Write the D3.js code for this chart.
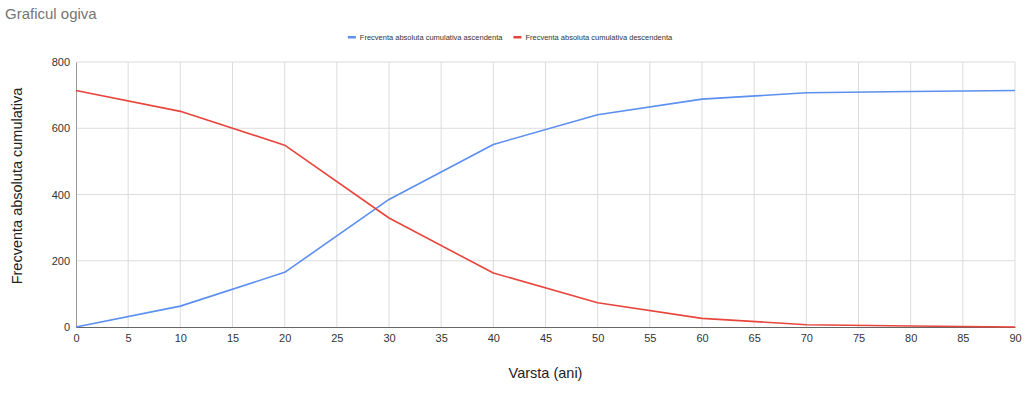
<!DOCTYPE html>
<html>
<head>
<meta charset="utf-8">
<script src="https://cdn.jsdelivr.net/npm/d3@7"></script>
<style>
  body { margin: 0; background: #fff; }
  svg { display: block; font-family: Arial, "Liberation Sans", sans-serif; }
</style>
</head>
<body>
<svg id="chart" width="1024" height="396"></svg>
<script>
// data
const ages = [0, 10, 20, 30, 40, 50, 60, 70, 80, 90];
const ascending = [0, 63, 165, 385, 551, 641, 688, 707, 711, 714];
const descending = [714, 651, 549, 329, 163, 73, 26, 7, 3, 0];
const xTicks = d3.range(0, 91, 5);
const yTicks = [0, 200, 400, 600, 800];
const seriesNames = ['Frecventa absoluta cumulativa ascendenta', 'Frecventa absoluta cumulativa descendenta'];
const seriesColors = ['#5b8ff0', '#e8453c'];

const MARGINS = { top: 62, bottom: 69, left: 76, right: 9 };
const FONT = 'Arial, "Liberation Sans", sans-serif';
const svg = d3.select('#chart');
const width = +svg.attr('width');
const height = +svg.attr('height');

const scaleX = d3.scaleLinear().domain([0, 90]).range([MARGINS.left, width - MARGINS.right]);
const scaleY = d3.scaleLinear().domain([0, 800]).range([height - MARGINS.bottom, MARGINS.top]);

// title
svg.append('text')
  .attr('x', 5).attr('y', 19)
  .attr('font-size', 15).attr('fill', '#757575')
  .text('Graficul ogiva');

// grid
const grid = svg.append('g').attr('class', 'grid');
grid.selectAll('.vx').data(xTicks.filter(d => d > 0)).join('line')
  .attr('x1', d => scaleX(d)).attr('x2', d => scaleX(d))
  .attr('y1', scaleY(800)).attr('y2', scaleY(0))
  .attr('stroke', '#dcdcdc').attr('stroke-width', 1);
grid.selectAll('.hy').data(yTicks.filter(d => d > 0)).join('line')
  .attr('x1', scaleX(0)).attr('x2', scaleX(90))
  .attr('y1', d => scaleY(d)).attr('y2', d => scaleY(d))
  .attr('stroke', '#dcdcdc').attr('stroke-width', 1);

// axes
const axisX = svg.append('g')
  .attr('transform', `translate(0, ${scaleY(0)})`)
  .call(d3.axisBottom(scaleX).tickValues(xTicks).tickSize(0).tickPadding(7));
axisX.select('.domain').attr('stroke', '#666');
axisX.selectAll('text').attr('font-size', 11).attr('fill', '#333').attr('font-family', FONT);

const axisY = svg.append('g')
  .attr('transform', `translate(${scaleX(0)}, 0)`)
  .call(d3.axisLeft(scaleY).tickValues(yTicks).tickSize(0).tickPadding(6));
axisY.select('.domain').attr('stroke', '#999');
axisY.selectAll('text').attr('font-size', 11).attr('fill', '#333').attr('font-family', FONT);

// lines
const line = d3.line().x((d, i) => scaleX(ages[i])).y(d => scaleY(d));
[ascending, descending].forEach((values, i) => {
  svg.append('path')
    .datum(values)
    .attr('d', line)
    .attr('fill', 'none')
    .attr('stroke', seriesColors[i])
    .attr('stroke-width', 1.6)
    .attr('stroke-linejoin', 'round');
});

// legend, centered, laid out from measured text widths
const legend = svg.append('g').attr('font-size', 7.5).attr('fill', '#333');
const items = seriesNames.map((name, i) => {
  const g = legend.append('g');
  g.append('rect')
    .attr('x', 0).attr('y', 36)
    .attr('width', 8).attr('height', 2.5)
    .attr('fill', seriesColors[i]);
  const t = g.append('text').attr('x', 12).attr('y', 40).text(name);
  return { g, w: 12 + t.node().getComputedTextLength() };
});
const gap = 11;
const total = d3.sum(items, d => d.w) + gap * (items.length - 1);
let cursor = 510 - total / 2;
items.forEach(it => {
  it.g.attr('transform', `translate(${cursor}, 0)`);
  cursor += it.w + gap;
});

// axis titles
svg.append('text')
  .attr('x', (scaleX(0) + scaleX(90)) / 2).attr('y', 378)
  .attr('text-anchor', 'middle')
  .attr('font-size', 14.5).attr('fill', '#222')
  .text('Varsta (ani)');
svg.append('text')
  .attr('transform', 'translate(22, 186) rotate(-90)')
  .attr('text-anchor', 'middle')
  .attr('font-size', 14.5).attr('fill', '#222')
  .text('Frecventa absoluta cumulativa');
</script>
</body>
</html>
